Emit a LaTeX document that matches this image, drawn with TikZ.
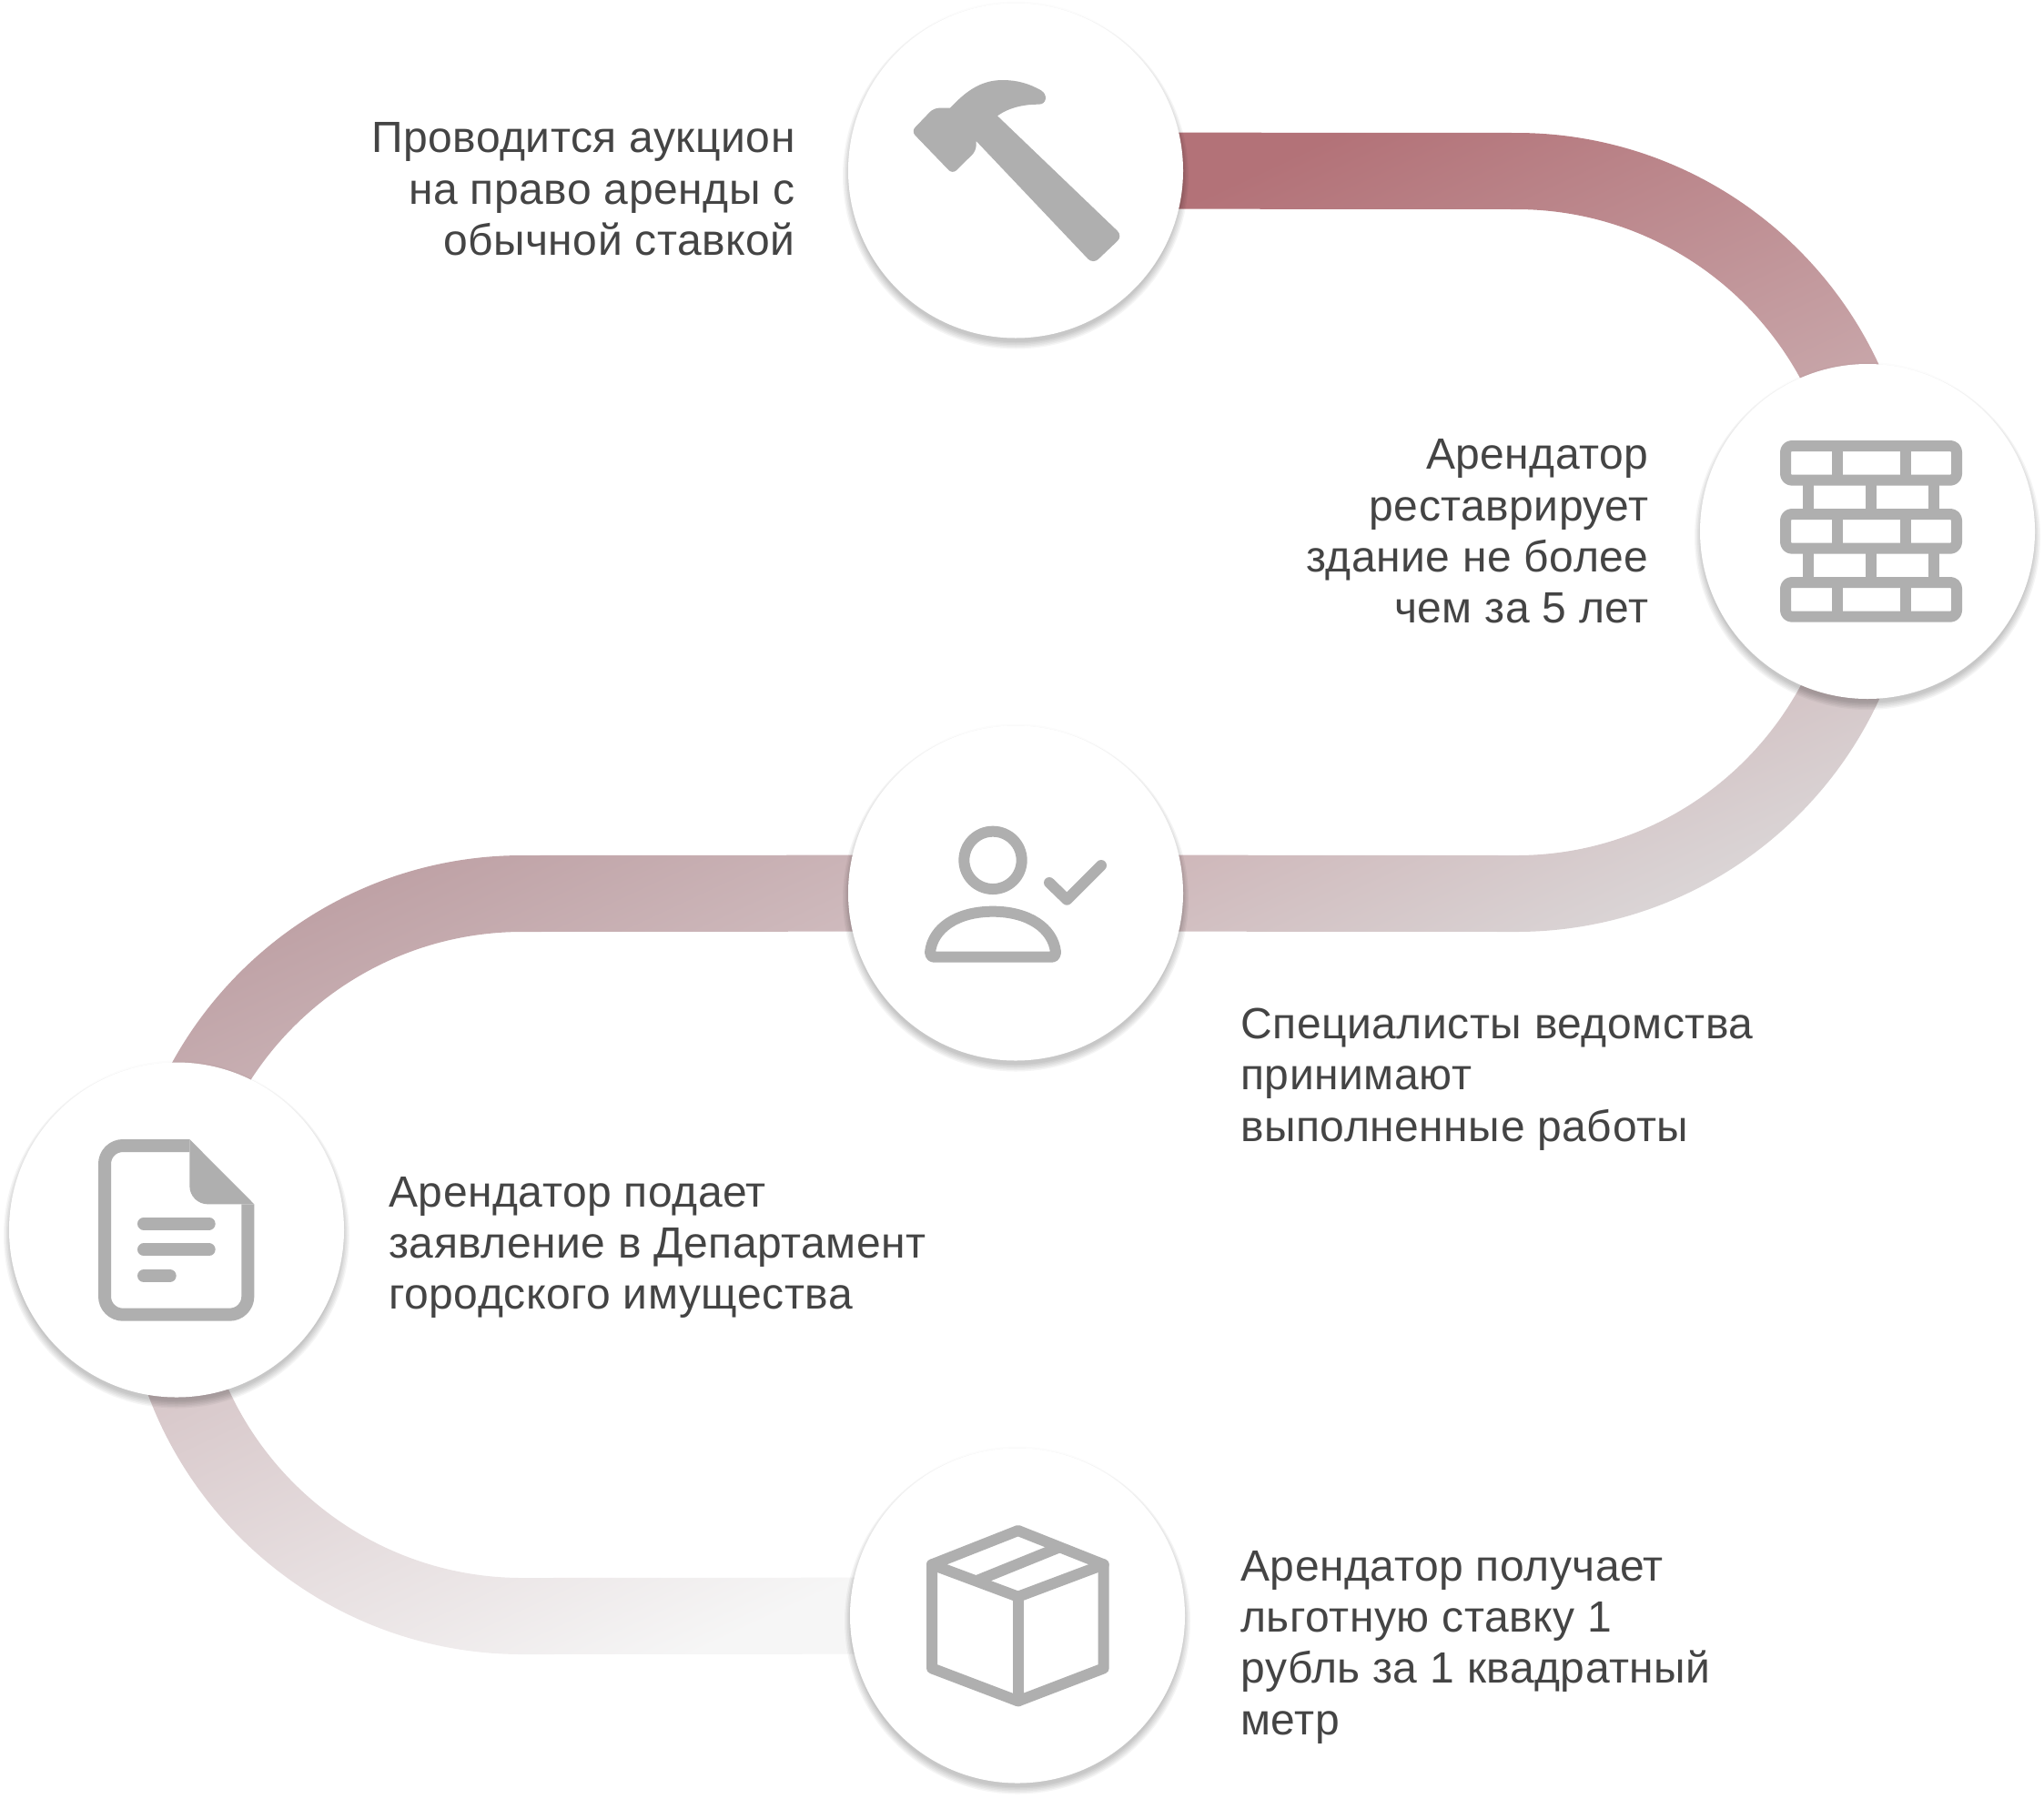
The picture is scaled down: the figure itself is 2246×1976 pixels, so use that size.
\documentclass[tikz,border=0pt]{standalone}
\usepackage{fontspec}
\setmainfont[LetterSpace=1.1]{Liberation Sans}
\usetikzlibrary{calc,backgrounds}
\definecolor{icongrey}{HTML}{AFAFAF}
\definecolor{textgrey}{HTML}{444444}
\definecolor{bandAtop}{HTML}{B37278}
\definecolor{bandAbot}{HTML}{DAD4D5}
\definecolor{bandBtop}{HTML}{BFA2A6}
\definecolor{bandBmid}{HTML}{CFC3C5}
\definecolor{bandBbot}{HTML}{F6F6F6}
\tikzset{
  stepdisc/.style={circle,fill=white,minimum size=184pt,inner sep=0pt},
  note/.style={text=textgrey,font=\fontsize{24}{28.15}\selectfont,inner sep=0pt},
  iconline/.style={draw=icongrey,line width=6pt,line join=round,line cap=round,fill=none},
  iconbutt/.style={draw=icongrey,line width=7pt,line cap=butt,line join=round,fill=none},
  iconfill/.style={fill=icongrey,draw=none},
}
\begin{document}
\begin{tikzpicture}[x=0.5pt,y=-0.5pt]
\useasboundingbox (0,0) rectangle (2246,1976);
\node[stepdisc] (c1) at (1116,187.5) {};
\node[stepdisc] (c2) at (2052,584) {};
\node[stepdisc] (c3) at (1116,981.5) {};
\node[stepdisc] (c4) at (194,1351.5) {};
\node[stepdisc] (c5) at (1118,1775.5) {};

\begin{pgfonlayer}{background}
  \shade[top color=bandAtop,bottom color=bandAbot,shading angle=25]
    ($(c1)+(0,-42)$) -- (1666,146) arc[start angle=-90,end angle=90,radius=439]
    -- ($(c3)+(0,42)$) -- ($(c3)+(0,-42)$) -- (1666,940)
    arc[start angle=90,end angle=-90,radius=355] -- ($(c1)+(0,42)$) -- cycle;
  \shade[top color=bandBtop,middle color=bandBmid,bottom color=bandBbot,shading angle=25]
    ($(c3)+(0,-42)$) -- (574,940) arc[start angle=-90,end angle=-270,radius=439]
    -- ($(c5)+(0,42)$) -- ($(c5)+(0,-42)$) -- (574,1734)
    arc[start angle=-270,end angle=-90,radius=355] -- ($(c3)+(0,42)$) -- cycle;
  \foreach \n in {c1,c2,c3,c4,c5}{
    \fill[black,opacity=0.012] (\n) circle[radius=186];
    \foreach \r in {190,188.5,187,185.5,184,182.5}{
      \fill[black,opacity=0.04] ($(\n)+(0,6)$) circle[radius=\r];
    }
  }
\end{pgfonlayer}

% text
\node[note,anchor=east,align=right] (t1) at (874,208) {Проводится аукцион\\на право аренды с\\обычной ставкой};
\node[note,anchor=east,align=right] (t2) at (1812,584) {Арендатор\\реставрирует\\здание не более\\чем за 5 лет};
\node[note,anchor=west,align=left] (t3) at (1363,1186) {Специалисты ведомства\\принимают\\выполненные работы};
\node[note,anchor=west,align=left] (t4) at (427,1371) {Арендатор подает\\заявление в Департамент\\городского имущества};
\node[note,anchor=west,align=left] (t5) at (1363,1810) {Арендатор получает\\льготную ставку 1\\рубль за 1 квадратный\\метр};

% hammer
\begin{scope}[shift={(920,0)},x=0.16667pt,y=-0.16667pt]
  \fill[iconfill] (372,356) [rounded corners=3pt] -- (318,356) -- (244,433) -- (380,574) -- (458,497) [sharp corners] -- (458,465)
    [rounded corners=4pt] -- (843,871) -- (941,778) [sharp corners] -- (528,382)
    .. controls (570,352) and (620,344) .. (665,344)
    .. controls (690,344) and (695,312) .. (672,298)
    .. controls (630,274) and (590,264) .. (545,264)
    .. controls (470,264) and (420,305) .. (372,356) -- cycle;
\end{scope}

% bricks
\begin{scope}[shift={(1860,380)},x=0.16667pt,y=-0.16667pt]
  \foreach \y in {330,555,780}{
    \draw[iconbutt,line width=6pt,rounded corners=3.5pt] (306,\y) rectangle (870,\y+113);
    \draw[iconbutt,line width=6pt] (475.5,\y) -- (475.5,\y+113);
    \draw[iconbutt,line width=6pt] (700.5,\y) -- (700.5,\y+113);
  }
  \foreach \y in {443,668}{
    \foreach \x in {381.5,588,794}{
      \draw[iconbutt,line width=6pt] (\x,\y) -- (\x,\y+112);
    }
  }
\end{scope}

% person
\begin{scope}[shift={(920,790)},x=0.16667pt,y=-0.16667pt]
  \draw[iconline] (513,466) circle[radius=95];
  \draw[iconline] (320,785) -- (706,785) .. controls (716,785) and (720,778) .. (720,770)
    .. controls (712,690) and (630,635) .. (513,635)
    .. controls (395,635) and (314,690) .. (306,770)
    .. controls (306,778) and (310,785) .. (320,785) -- cycle;
  \draw[iconline] (699,540) -- (757,596) -- (870,483);
\end{scope}

% document
\begin{scope}[shift={(0,1150)},x=0.16667pt,y=-0.16667pt]
  \draw[iconbutt] (625,327) -- (405,327) arc[start angle=-90,end angle=-180,radius=60]
    -- (345,824) arc[start angle=180,end angle=90,radius=60]
    -- (757,884) arc[start angle=90,end angle=0,radius=60] -- (817,520);
  \fill[iconfill] (625,306) -- (838,520) -- (685,520)
    arc[start angle=90,end angle=180,radius=60] -- cycle;
  \draw[iconline,line width=7pt] (474,584) -- (689,584);
  \draw[iconline,line width=7pt] (474,670) -- (689,670);
  \draw[iconline,line width=7pt] (474,756) -- (560,756);
\end{scope}

% box
\begin{scope}[shift={(920,1576)},x=0.16667pt,y=-0.16667pt]
  \draw[iconline] (596,318) -- (878,430) -- (878,772) -- (596,880) -- (312,772) -- (312,430) -- cycle;
  \draw[iconline] (312,430) -- (596,536) -- (878,430);
  \draw[iconline] (596,536) -- (596,880);
  \draw[iconline,line cap=butt] (458,484) -- (737,371);
\end{scope}
\end{tikzpicture}
\end{document}
